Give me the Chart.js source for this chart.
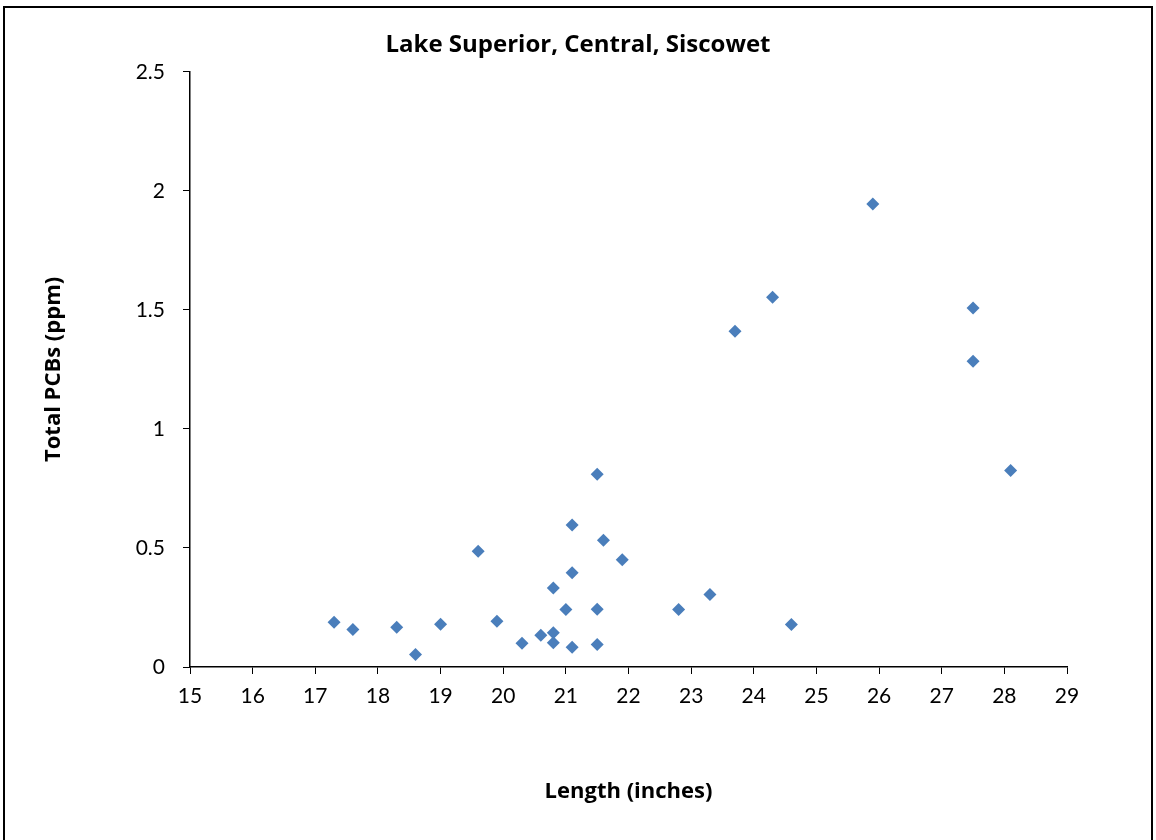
<!DOCTYPE html>
<html>
<head>
<meta charset="utf-8">
<script src="https://cdn.jsdelivr.net/npm/chart.js@4"></script>
<style>
    body { margin: 0; background: #fff; }
    #wrap { position: relative; width: 1156px; height: 840px; overflow: hidden; }
    #frame { position: absolute; left: 3px; top: 6px; width: 1150px; height: 840px; border: 2px solid #000; box-sizing: border-box; }
    canvas { position: absolute; left: 0; top: 0; }
</style>
</head>
<body>
<div id="wrap">
    <canvas id="myChart" width="1156" height="840"></canvas>
    <div id="frame"></div>
</div>
<script>
// Data
const lengths = [17.3, 17.6, 18.3, 18.6, 19.0, 19.6, 19.9, 20.3, 20.6, 20.8, 20.8, 20.8, 21.0, 21.1, 21.1,
    21.1, 21.5, 21.5, 21.5, 21.6, 21.9, 22.8, 23.3, 23.7, 24.3, 24.6, 25.9, 27.5, 27.5, 28.1];
const pcbs = [0.188, 0.158, 0.167, 0.053, 0.18, 0.486, 0.192, 0.10, 0.133, 0.144, 0.102, 0.332, 0.242, 0.083, 0.396,
    0.596, 0.243, 0.094, 0.81, 0.532, 0.451, 0.242, 0.305, 1.41, 1.553, 0.178, 1.945, 1.508, 1.284, 0.825];
const yTicks = [0, 0.5, 1, 1.5, 2, 2.5];
const xTicks = [15, 16, 17, 18, 19, 20, 21, 22, 23, 24, 25, 26, 27, 28, 29];

const points = lengths.map((x, i) => ({ x: x, y: pcbs[i] }));
const fontFamily = "Lato, 'Noto Sans', sans-serif";
const titleFamily = "'Open Sans', 'Noto Sans', sans-serif";

const ctx = document.getElementById("myChart").getContext("2d");
const myChart = new Chart(ctx, {
    type: "scatter",
    data: {
        datasets: [
            {
                label: "Total PCBs",
                data: points,
                pointStyle: "rectRot",
                pointRadius: 6.5,
                backgroundColor: "#4A7EBB",
                borderColor: "#4A7EBB",
                borderWidth: 0,
            },
        ],
    },
    options: {
        responsive: false,
        animation: false,
        layout: { padding: 0 },
        plugins: {
            legend: { display: false },
            tooltip: { enabled: false },
            title: {
                display: true,
                text: "Lake Superior, Central, Siscowet",
                color: "#000",
                font: { family: titleFamily, size: 24, weight: "bold" },
                padding: { top: 31, bottom: 12 },
            },
        },
        scales: {
            x: {
                type: "linear",
                min: xTicks[0],
                max: xTicks[xTicks.length - 1],
                afterBuildTicks: (scale) => { scale.ticks = xTicks.map((v) => ({ value: v })); },
                afterFit: (scale) => { scale.height = 840 - 667; },
                grid: { drawOnChartArea: false, drawTicks: true, tickLength: 7, tickColor: "#000" },
                border: { color: "#000", width: 1.5 },
                ticks: {
                    color: "#000",
                    padding: 10,
                    font: { family: fontFamily, size: 21 },
                    maxRotation: 0,
                },
                title: {
                    display: true,
                    text: "Length (inches)",
                    color: "#000",
                    font: { family: titleFamily, size: 22, weight: "bold" },
                    padding: { top: 0, bottom: 35 },
                },
            },
            y: {
                type: "linear",
                min: 0,
                max: 2.5,
                afterBuildTicks: (scale) => { scale.ticks = yTicks.map((v) => ({ value: v })); },
                afterFit: (scale) => { scale.width = 190; },
                grid: { drawOnChartArea: false, drawTicks: true, tickLength: 7, tickColor: "#000" },
                border: { color: "#000", width: 1.5 },
                ticks: {
                    color: "#000",
                    padding: 18,
                    font: { family: fontFamily, size: 21 },
                    callback: (v) => String(v),
                },
                title: {
                    display: true,
                    text: "Total PCBs (ppm)",
                    color: "#000",
                    font: { family: titleFamily, size: 22, weight: "bold" },
                    padding: { top: 41, bottom: 0 },
                },
            },
            // empty right-hand box so the chart area stops where the reference's does
            yRight: {
                position: "right",
                display: true,
                grid: { display: false },
                border: { display: false },
                ticks: { display: false },
                afterFit: (scale) => { scale.width = 1156 - 1067; },
            },
        },
    },
});
</script>
</body>
</html>
